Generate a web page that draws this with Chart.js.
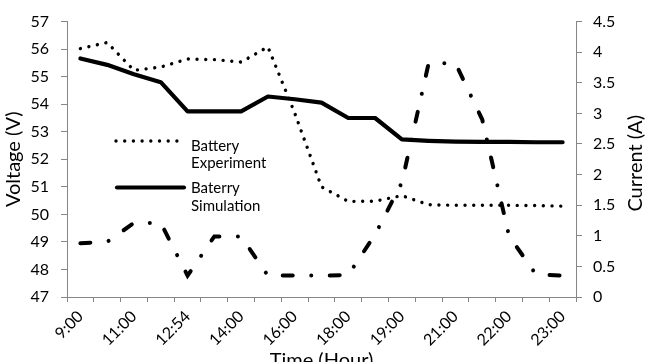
<!DOCTYPE html>
<html>
<head>
<meta charset="utf-8">
<script src="https://cdn.jsdelivr.net/npm/chart.js@4.4.0/dist/chart.umd.min.js"></script>
<style>
  html, body { margin: 0; padding: 0; background: #fff; overflow: hidden; }
  #wrap { width: 649px; height: 362px; position: relative; }
</style>
</head>
<body>
<div id="wrap"><canvas id="chart"></canvas></div>
<script>
// Time of day (every other sample is labelled on the axis)
const timeLabels = ['9:00', '', '11:00', '', '12:54', '', '14:00', '', '16:00', '',
                    '18:00', '', '19:00', '', '21:00', '', '22:00', '', '23:00'];

// Battery voltage (V)
const voltageExperiment = [56.02, 56.24, 55.23, 55.35, 55.64, 55.62, 55.53, 56.08, 53.68, 51.00,
                           50.47, 50.48, 50.68, 50.35, 50.33, 50.33, 50.33, 50.32, 50.30];
const voltageSimulation = [55.66, 55.43, 55.09, 54.80, 53.74, 53.74, 53.74, 54.28, 54.18, 54.06,
                           53.50, 53.50, 52.72, 52.67, 52.64, 52.63, 52.63, 52.62, 52.62];

// Battery current (A)
const batteryCurrent = [0.88, 0.90, 1.21, 1.21, 0.35, 0.99, 0.99, 0.35, 0.35, 0.35,
                        0.36, 1.02, 1.87, 3.82, 3.82, 2.90, 1.00, 0.37, 0.35];

// Axis ranges
const voltageRange = [47, 57, 1];
const currentRange = [0, 4.5, 0.5];

// Legend text (two lines each)
const legendText = [['Battery', 'Experiment'], ['Baterry', 'Simulation']];

const AXIS_GREY = '#868686';
const FONT = 'Lato';
Chart.defaults.font.family = FONT;
Chart.defaults.font.size = 15;
Chart.defaults.color = '#000';

// Legend drawn inside the plot area plus the upward-reading right axis title
const annotations = {
  id: 'annotations',
  afterDraw(chart) {
    const ctx = chart.ctx;
    const items = [
      { ds: chart.data.datasets[0], x0: 116, x1: 178, y: 141, t1: 146, t2: 163 },
      { ds: chart.data.datasets[1], x0: 117, x1: 184, y: 187.5, t1: 188, t2: 206 }
    ];
    ctx.save();
    items.forEach((it, i) => {
      ctx.beginPath();
      ctx.strokeStyle = it.ds.borderColor;
      ctx.lineWidth = it.ds.borderWidth;
      ctx.lineCap = it.ds.borderCapStyle || 'butt';
      ctx.setLineDash(it.ds.borderDash || []);
      ctx.moveTo(it.x0, it.y);
      ctx.lineTo(it.x1, it.y);
      ctx.stroke();
      ctx.setLineDash([]);
      ctx.fillStyle = '#000';
      ctx.font = '15px ' + FONT;
      ctx.textAlign = 'left';
      ctx.textBaseline = 'middle';
      ctx.fillText(legendText[i][0], 191, it.t1);
      ctx.fillText(legendText[i][1], 191, it.t2);
    });
    const area = chart.chartArea;
    ctx.translate(636, (area.top + area.bottom) / 2 + 4);
    ctx.rotate(-Math.PI / 2);
    ctx.font = '20px ' + FONT;
    ctx.textAlign = 'center';
    ctx.textBaseline = 'middle';
    ctx.fillText('Current (A)', 0, 0);
    ctx.restore();
  }
};

const axisGrid = { drawOnChartArea: false, drawTicks: true, color: AXIS_GREY, tickLength: 6 };
const plainNumber = (v) => String(Math.round(v * 10) / 10);

new Chart(document.getElementById('chart'), {
  type: 'line',
  data: {
    labels: timeLabels,
    datasets: [
      {
        label: 'Battery Experiment',
        data: voltageExperiment,
        yAxisID: 'y',
        borderColor: '#000',
        borderWidth: 3.4,
        borderDash: [0.001, 8.7],
        borderCapStyle: 'round',
        pointRadius: 0,
        tension: 0,
        fill: false
      },
      {
        label: 'Baterry Simulation',
        data: voltageSimulation,
        yAxisID: 'y',
        borderColor: '#000',
        borderWidth: 4.2,
        borderCapStyle: 'round',
        borderJoinStyle: 'round',
        pointRadius: 0,
        tension: 0,
        fill: false
      },
      {
        label: 'Current',
        data: batteryCurrent,
        yAxisID: 'y1',
        borderColor: '#000',
        borderWidth: 4,
        borderDash: [10, 18.5, 0.001, 18.5],
        borderCapStyle: 'round',
        pointRadius: 0,
        tension: 0,
        fill: false
      }
    ]
  },
  options: {
    responsive: true,
    maintainAspectRatio: false,
    animation: false,
    layout: { padding: { top: 16, left: 0, right: 0, bottom: 0 } },
    plugins: { legend: { display: false }, tooltip: { enabled: false } },
    scales: {
      x: {
        type: 'category',
        offset: true,
        grid: { offset: true, drawOnChartArea: false, drawTicks: true, color: AXIS_GREY, tickLength: 5 },
        border: { display: true, color: AXIS_GREY, width: 1 },
        ticks: { autoSkip: false, maxRotation: 45, minRotation: 45, padding: 5, font: { size: 16 } },
        title: { display: true, text: 'Time (Hour)', font: { size: 20 }, padding: { top: 0, bottom: -11 } },
        afterFit(scale) { scale.height = 65; }
      },
      y: {
        position: 'left',
        min: voltageRange[0],
        max: voltageRange[1],
        grid: axisGrid,
        border: { display: true, color: AXIS_GREY, width: 1 },
        ticks: { stepSize: voltageRange[2], padding: 12, font: { size: 16 }, callback: plainNumber },
        title: { display: true, text: 'Voltage (V)', font: { size: 20 }, padding: { top: 2, bottom: 0 } },
        afterFit(scale) { scale.width = 67; }
      },
      y1: {
        position: 'right',
        min: currentRange[0],
        max: currentRange[1],
        grid: axisGrid,
        border: { display: true, color: AXIS_GREY, width: 1 },
        ticks: { stepSize: currentRange[2], padding: 11, font: { size: 16 }, callback: plainNumber },
        afterFit(scale) { scale.width = 73; }
      }
    }
  },
  plugins: [annotations]
});
</script>
</body>
</html>
